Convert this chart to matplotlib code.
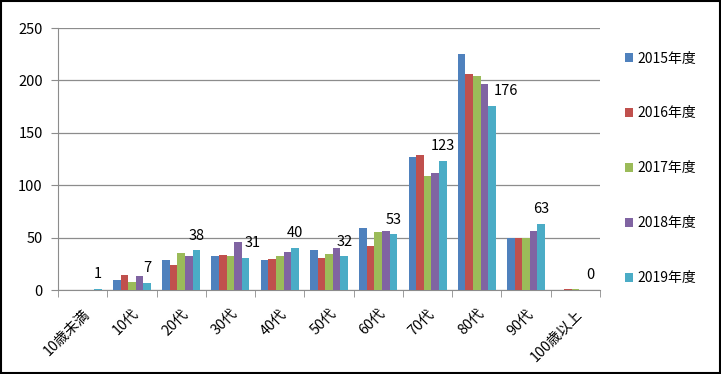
import matplotlib
matplotlib.use("Agg")
import matplotlib.pyplot as plt
import numpy as np
from matplotlib.patches import Rectangle

plt.rcParams['font.family'] = ['Noto Sans CJK JP', 'DejaVu Sans']

categories = ["10歳未満", "10代", "20代", "30代", "40代", "50代", "60代", "70代", "80代", "90代", "100歳以上"]
series_names = ["2015年度", "2016年度", "2017年度", "2018年度", "2019年度"]
v2015 = [0, 10, 29, 32, 29, 38, 59, 127, 225, 50, 0]
v2016 = [0, 14, 24, 33, 30, 31, 42, 129, 206, 50, 1]
v2017 = [0, 8, 35, 32, 32, 34, 55, 109, 204, 50, 1]
v2018 = [0, 13, 32, 46, 36, 40, 56, 112, 197, 56, 0]
v2019 = [1, 7, 38, 31, 40, 32, 53, 123, 176, 63, 0]
colors = ["#4F81BD", "#C0504D", "#9BBB59", "#8064A2", "#4BACC6"]

data = [v2015, v2016, v2017, v2018, v2019]

fig = plt.figure(figsize=(7.21, 3.74), dpi=100)
ax = fig.add_axes([58/721, 1-290/374, (600-58)/721, (290-28)/374])

n = len(categories)
x = np.arange(n)
group = 0.77
w = group / 5
handles = []
label_shift = {3: 0.14, 8: 0.28}
for i, (vals, c, name) in enumerate(zip(data, colors, series_names)):
    pos = x - group/2 + w*(i+0.5)
    b = ax.bar(pos, vals, width=w, color=c, label=name, zorder=3)
    handles.append(b)
    if i == 4:
        for k, (px, v) in enumerate(zip(pos, vals)):
            ax.text(px + label_shift.get(k, 0), v + 14, str(v), ha='center', va='center',
                    fontsize=10.5, zorder=4)

ax.set_xlim(-0.5, n-0.5)
ax.set_ylim(0, 250)
ax.set_yticks(range(0, 251, 50))
ax.yaxis.grid(True, color="#8c8c8c", linewidth=0.9, zorder=0)
ax.set_axisbelow(True)
for s in ['top', 'right']:
    ax.spines[s].set_visible(False)
ax.spines['left'].set_color("#8c8c8c")
ax.spines['bottom'].set_color("#8c8c8c")
ax.tick_params(axis='y', length=5, color="#8c8c8c", labelsize=10.5, pad=6)
ax.set_xticks(x)
ax.set_xticklabels(categories, rotation=45, ha='right', rotation_mode='anchor', fontsize=10.3)
ax.tick_params(axis='x', which='major', length=0, pad=12)
ax.set_xticks(np.arange(-0.5, n, 1), minor=True)
ax.tick_params(axis='x', which='minor', length=5, color="#8c8c8c")

leg = fig.legend(handles=handles, labels=series_names, loc='upper left',
                 bbox_to_anchor=(612/721, 1-39/374), frameon=False, fontsize=10,
                 labelspacing=2.95, handlelength=0.6, handleheight=0.6, handletextpad=0.3)

fig.patches.append(Rectangle((0.001, 0.002), 0.997, 0.995, transform=fig.transFigure,
                             fill=False, edgecolor='black', linewidth=1.5))

fig.savefig("out.png", dpi=100)
